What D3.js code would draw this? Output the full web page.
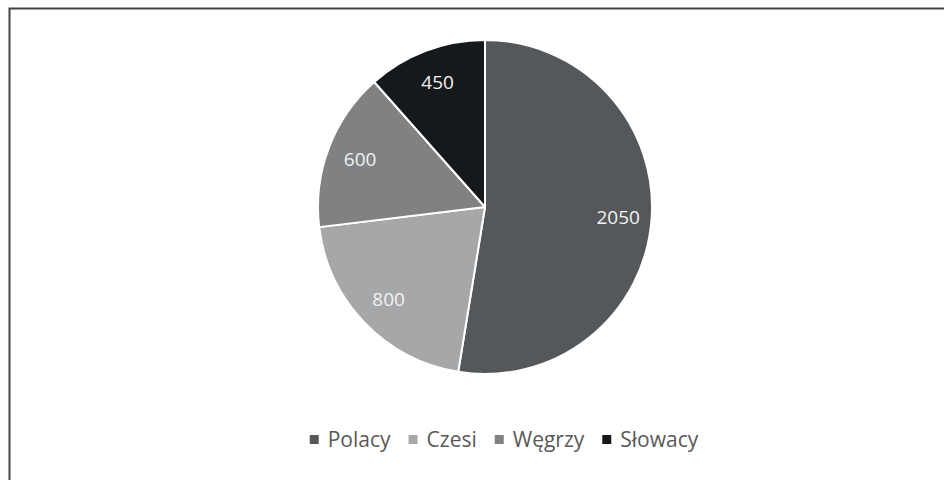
<!DOCTYPE html>
<html>
<head>
<meta charset="utf-8">
<script src="https://cdn.jsdelivr.net/npm/d3@7"></script>
<style>
  body { margin: 0; background: #fff; }
  svg { display: block; }
</style>
</head>
<body>
<div id="chart"></div>
<script>
// data
var categories = ["Polacy", "Czesi", "Węgrzy", "Słowacy"];
var values = [2050, 800, 600, 450];
var colors = ["#55585a", "#a5a7a9", "#7f8183", "#16191b"];

var width = 944, height = 480;
var cx = 485, cy = 207, radius = 167;

var svg = d3.select("#chart").append("svg")
    .attr("width", width)
    .attr("height", height);

// outer frame (only top and left visible in the crop)
svg.append("path")
    .attr("d", "M9.5,480 V8.5 H944")
    .attr("fill", "none")
    .attr("stroke", "#444")
    .attr("stroke-width", 2);

var data = categories.map(function (c, i) { return { name: c, value: values[i], color: colors[i] }; });

var pie = d3.pie().sort(null).value(function (d) { return d.value; });
var arc = d3.arc().innerRadius(0).outerRadius(radius);
var labelArc = d3.arc().innerRadius(radius * 0.8).outerRadius(radius * 0.8);

var g = svg.append("g").attr("transform", "translate(" + cx + "," + cy + ")");

var arcs = pie(data);

g.selectAll("path.slice")
    .data(arcs)
    .enter().append("path")
    .attr("class", "slice")
    .attr("d", arc)
    .attr("fill", function (d) { return d.data.color; })
    .attr("stroke", "#fff")
    .attr("stroke-width", 2)
    .attr("stroke-linejoin", "round");

g.selectAll("text.lbl")
    .data(arcs)
    .enter().append("text")
    .attr("class", "lbl")
    .attr("transform", function (d) { return "translate(" + labelArc.centroid(d) + ")"; })
    .attr("text-anchor", "middle")
    .attr("dy", "0.35em")
    .attr("fill", "#f2f2f2")
    .style("font-family", "'Open Sans', 'Noto Sans', sans-serif")
    .style("font-size", "19px")
    .text(function (d) { return d.data.value; });

// legend, centred under the pie
var legend = svg.append("g").attr("class", "legend");
var items = legend.selectAll("g")
    .data(data)
    .enter().append("g");

items.append("rect")
    .attr("width", 9)
    .attr("height", 9)
    .attr("y", -5)
    .attr("fill", function (d) { return d.color; });

items.append("text")
    .attr("x", 18)
    .attr("dy", "0.35em")
    .attr("fill", "#595959")
    .style("font-family", "'Open Sans', 'Noto Sans', sans-serif")
    .style("font-size", "21px")
    .text(function (d) { return d.name; });

var xpos = 0;
items.each(function () {
    var t = d3.select(this).select("text").node().getComputedTextLength();
    d3.select(this).attr("transform", "translate(" + xpos + ",0)");
    xpos += 18 + t + 18;
});
var total = xpos - 18;
legend.attr("transform", "translate(" + (504 - total / 2) + ",440)");
</script>
</body>
</html>
